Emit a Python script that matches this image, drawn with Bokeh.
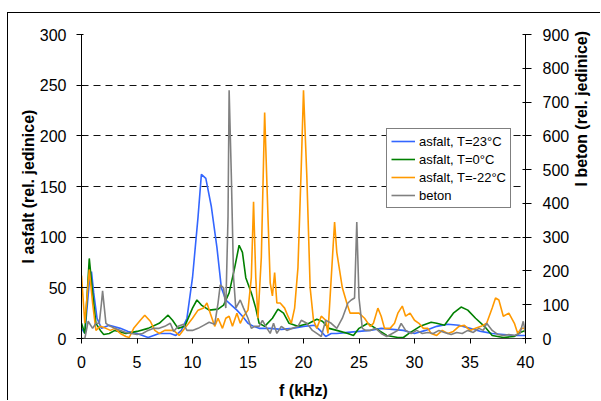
import math
from bokeh.plotting import figure
from bokeh.models import Range1d, LinearAxis, FixedTicker, Legend, LegendItem
from bokeh.embed import file_html
from bokeh.resources import INLINE

# ---- data ----
f_blue = [0, 0.3, 0.7, 0.9, 1.1, 1.4, 1.8, 2.5, 3.5, 4.2, 5, 6, 7, 8, 8.5, 9, 9.5, 10, 10.5, 10.8,
          11.2, 11.7, 12.2, 12.6, 13, 13.5, 14, 14.5, 15, 15.5, 16, 17, 18, 19, 20, 21, 21.5, 22,
          22.5, 23, 24, 25, 26, 27, 28, 29, 30, 31, 32, 33, 34, 35, 36, 37, 38, 39, 40]
v_blue = [10, 5, 55, 66, 45, 20, 10, 13, 10, 7, 5, 1, 5, 5, 3, 8, 20, 60, 120, 162,
          158, 130, 90, 50, 38, 33, 28, 22, 15, 12, 10, 10, 9, 10, 12, 13, 8, 2,
          5, 5, 6, 7, 8, 10, 9, 8, 5, 8, 12, 14, 13, 10, 7, 5, 4, 3, 3]

f_green = [0, 0.3, 0.7, 1.0, 1.3, 1.7, 2.0, 2.5, 3, 4, 5, 6, 7, 7.5, 7.8, 8.2, 8.7, 9.3, 10, 10.4,
           10.8, 11.5, 12.3, 12.8, 13.3, 13.8, 14.2, 14.5, 14.8, 15.3, 15.7, 16.0, 16.5, 17.2, 17.7,
           18.2, 18.7, 19.5, 20.5, 21.2, 21.7, 22.3, 23, 24, 24.5, 25, 25.8, 26.5, 27.5, 28.5, 29,
           29.5, 30.5, 31.5, 32, 32.7, 33.5, 34.2, 34.8, 35.5, 36.3, 37, 38, 39, 39.5, 40]
v_green = [15, 5, 79, 45, 15, 8, 4, 5, 8, 5, 7, 10, 15, 20, 23, 18, 10, 12, 30, 38,
           33, 28, 29, 33, 45, 70, 92, 85, 60, 45, 30, 15, 12, 20, 29,
           25, 15, 12, 15, 19, 17, 10, 8, 5, 3, 10, 15, 10, 3, 1, 1,
           5, 12, 16, 15, 13, 25, 31, 28, 20, 12, 3, 1, 2, 6, 8]

f_orange = [0, 0.3, 0.7, 1, 1.3, 1.7, 2.2, 2.6, 3, 3.5, 4, 4.3, 4.7, 5.3, 5.7, 6.2, 6.6, 7, 7.5, 8.3,
            8.8, 9.3, 10, 10.5, 11, 11.3, 11.6, 12, 12.3, 12.7, 13.0, 13.3, 13.6, 14, 14.3, 14.6, 15,
            15.3, 15.5, 15.7, 15.9, 16.2, 16.5, 16.8, 17.0, 17.2, 17.4, 17.6, 17.9, 18.3, 18.6, 18.9,
            19.2, 19.5, 19.8, 20.0, 20.3, 20.6, 20.9, 21.2, 21.6, 22.0, 22.2, 22.5, 22.8, 23.0, 23.5,
            23.9, 24.2, 24.6, 25, 25.5, 26, 26.3, 26.7, 27, 27.3, 27.8, 28.2, 28.5, 28.9, 29.2, 29.6,
            30, 30.4, 30.8, 31.2, 31.5, 32, 32.5, 33, 33.5, 34, 34.5, 35, 35.5, 36, 36.5, 37, 37.3,
            37.6, 38, 38.5, 39, 39.3, 39.6, 40]
v_orange = [62, 15, 68, 35, 8, 12, 10, 8, 10, 5, 2, 1, 10, 18, 23, 17, 8, 5, 8, 8,
            3, 10, 20, 28, 30, 35, 25, 12, 20, 10, 20, 22, 12, 25, 15, 22, 28,
            60, 135, 60, 20, 80, 223, 120, 55, 42, 65, 35, 35, 30, 22, 15,
            30, 70, 170, 245, 160, 50, 18, 10, 22, 18, 5, 60, 115, 85, 50,
            35, 25, 25, 25, 20, 12, 15, 30, 22, 10, 10, 15, 25, 32, 22, 25,
            18, 15, 10, 10, 5, 3, 8, 5, 7, 12, 13, 8, 10, 12, 15, 30, 40,
            38, 22, 25, 15, 5, 10, 10]

# beton in right-axis units (0-900)
f_gray = [0, 0.3, 0.6, 1.0, 1.3, 1.6, 1.8, 1.9, 2.2, 2.6, 3, 3.5, 4, 5, 5.5, 6, 6.5, 7, 7.5, 8,
          8.3, 8.7, 9.2, 9.5, 10, 10.5, 11, 11.5, 12.0, 12.3, 12.5, 12.8, 13.0, 13.2, 13.3, 13.5,
          13.7, 13.9, 14.3, 14.6, 15.0, 15.3, 15.6, 16, 16.3, 16.6, 17, 17.3, 17.6, 18, 18.5, 19,
          19.5, 19.8, 20.3, 20.8, 21.2, 21.6, 22, 22.5, 23, 23.5, 24, 24.3, 24.6, 24.8, 25.0, 25.3,
          25.6, 26, 26.5, 27, 27.5, 28, 28.5, 28.8, 29.2, 29.7, 30.2, 30.7, 31.2, 31.7, 32.2, 32.7,
          33.3, 33.8, 34.3, 34.8, 35.3, 35.8, 36.2, 36.5, 37, 37.5, 38, 38.5, 39, 39.5, 39.8, 40]
v_gray = [0, 0, 51, 30, 45, 45, 105, 141, 45, 36, 30, 24, 18, 12, 15, 24, 30, 30, 36, 45,
          21, 36, 42, 24, 24, 30, 39, 48, 42, 105, 159, 150, 90, 360, 735, 480,
          180, 90, 114, 90, 60, 30, 36, 36, 54, 36, 15, 45, 15, 36, 24, 30,
          36, 54, 45, 24, 15, 6, 54, 45, 30, 60, 105, 114, 120, 345, 120, 30,
          24, 24, 30, 15, 6, 15, 24, 45, 24, 15, 24, 15, 18, 15, 24, 18,
          12, 18, 15, 24, 18, 30, 24, 45, 24, 12, 9, 12, 9, 15, 51, 15]

x_ticks = [0, 5, 10, 15, 20, 25, 30, 35, 40]
y_ticks = [0, 50, 100, 150, 200, 250, 300]
y2_ticks = [0, 100, 200, 300, 400, 500, 600, 700, 800, 900]

FONT = "Liberation Sans"

p = figure(width=593, height=388, output_backend="svg", toolbar_location=None,
           x_range=Range1d(0, 40), y_range=Range1d(0, 300),
           min_border_left=73, min_border_right=76, min_border_top=21, min_border_bottom=62)
p.styles = {"border-left": "1px solid black", "border-top": "1px solid black",
            "margin-left": "7px", "margin-top": "12px"}
p.outline_line_color = None
p.background_fill_color = "white"

p.extra_y_ranges = {"beton": Range1d(0, 900)}

lw = 1.6
r_blue = p.line(f_blue, v_blue, color="#3366FF", line_width=lw)
r_green = p.line(f_green, v_green, color="#008000", line_width=lw)
r_orange = p.line(f_orange, v_orange, color="#FF9900", line_width=lw)
r_gray = p.line(f_gray, v_gray, color="#808080", line_width=lw, y_range_name="beton")

# grid
p.xgrid.visible = False
p.ygrid.grid_line_color = "#111111"
p.ygrid.grid_line_dash = "7 5"
p.ygrid.grid_line_width = 1
p.ygrid.ticker = FixedTicker(ticks=y_ticks)

def style_axis(ax):
    ax.major_label_text_font = FONT
    ax.major_label_text_font_size = "16px"
    ax.major_label_text_color = "black"
    ax.axis_label_text_font = FONT
    ax.axis_label_text_font_size = "16px"
    ax.axis_label_text_font_style = "bold"
    ax.axis_label_text_color = "black"
    ax.axis_line_color = "black"
    ax.major_tick_line_color = "black"
    ax.minor_tick_line_color = None

xa = p.xaxis[0]
style_axis(xa)
xa.ticker = FixedTicker(ticks=x_ticks)
xa.axis_label = "f (kHz)"
xa.major_tick_in = 0
xa.major_tick_out = 5
xa.major_label_standoff = 12
xa.axis_label_standoff = 11
xa.axis_line_color = "#444444"

ya = p.yaxis[0]
style_axis(ya)
ya.ticker = FixedTicker(ticks=y_ticks)
ya.axis_label = "I asfalt (rel. jedinice)"
ya.major_tick_in = 2
ya.major_tick_out = 5
ya.major_label_standoff = 10
ya.axis_label_standoff = 0

ya2 = LinearAxis(y_range_name="beton", ticker=FixedTicker(ticks=y2_ticks),
                 axis_label="I beton (rel. jedinice)")
style_axis(ya2)
ya2.major_tick_in = 3
ya2.major_tick_out = 6
ya2.major_label_standoff = 11
ya2.axis_label_standoff = 9
try:
    ya2.axis_label_orientation = math.pi / 2
    ya2.axis_label_text_align = "center"
except Exception:
    pass
p.add_layout(ya2, "right")

legend = Legend(items=[
    LegendItem(label="asfalt, T=23°C", renderers=[r_blue]),
    LegendItem(label="asfalt, T=0°C", renderers=[r_green]),
    LegendItem(label="asfalt, T=-22°C", renderers=[r_orange]),
    LegendItem(label="beton", renderers=[r_gray]),
], location=(305, 130))
legend.label_text_font = FONT
legend.label_text_font_size = "13px"
legend.label_text_color = "black"
legend.border_line_color = "black"
legend.border_line_width = 1
legend.background_fill_alpha = 1
legend.padding = 4
legend.margin = 0
legend.spacing = 2
legend.label_height = 16
legend.glyph_height = 16
legend.glyph_width = 24
legend.label_standoff = 4
p.add_layout(legend)

open("out.html", "w").write(file_html(p, INLINE))
